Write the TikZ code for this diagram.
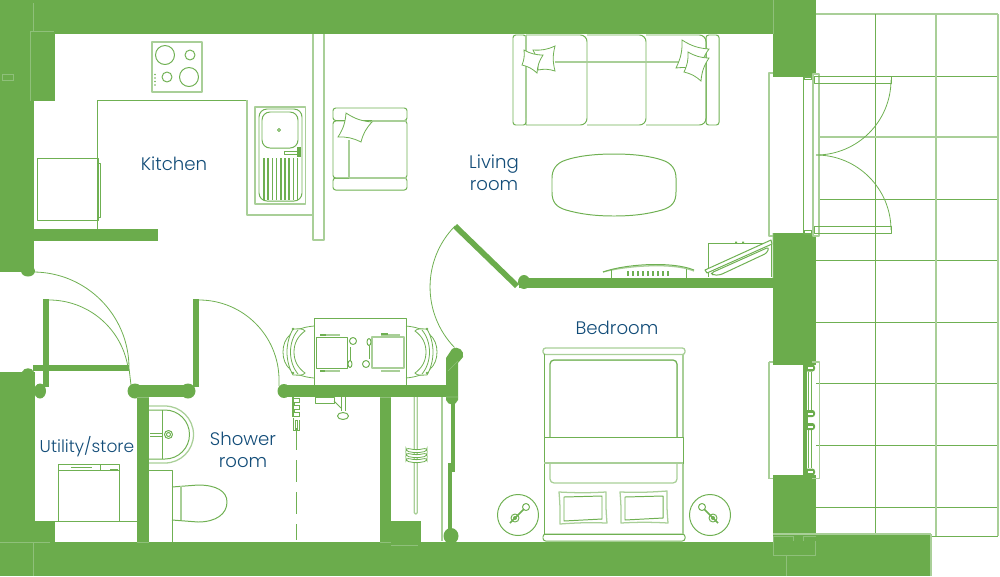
\documentclass[tikz,border=0pt]{standalone}
\usepackage{fontspec}
\setmainfont{Poppins Light}
\definecolor{wall}{HTML}{6BAC4C}
\definecolor{ink}{HTML}{124C78}
\definecolor{lineg}{HTML}{6FB052}
\definecolor{lightg}{HTML}{A9CF98}
\definecolor{seam}{HTML}{8FC07A}
\tikzset{
  wallfill/.style={fill=wall,draw=none},
  ln/.style={draw=lineg,line width=0.74pt,line join=round},
  ltl/.style={draw=lightg,line width=0.95pt,line join=round},
  thinl/.style={draw=lineg,line width=0.6pt},
  seaml/.style={draw=seam,line width=0.5pt},
  lab/.style={text=ink,font=\fontsize{13.6}{16.5}\selectfont,align=center,inner sep=0pt}
}
\newcommand{\cush}[4]{\draw[thinl,fill=white] #1 to[bend right=14] #2 to[bend right=14] #3 to[bend right=14] #4 to[bend right=14] cycle;}
\begin{document}
\begin{tikzpicture}[x=0.75pt,y=-0.75pt]
\useasboundingbox (0,0) rectangle (1000,576);
% terrace grid
\foreach \yy in {76,137,199,260,322,383,445,507}{\draw[ln] (816,\yy) -- (998,\yy);}
\draw[ltl] (816,14) -- (998,14);
\draw[ln] (875,14) -- (875,534);
\draw[ltl] (936,14) -- (936,536);
\draw[ltl] (998,14) -- (998,536);
\draw[ln] (931,536) -- (998,536);
\draw[ltl] (813,137) -- (998,137);
\draw[ln] (813,199) -- (816,199);
% walls
\fill[wallfill] (0,0) rectangle (816,34);
\fill[wallfill] (0,0) rectangle (34,272);
\fill[wallfill] (30,31) rectangle (55,101);
\fill[wallfill] (773,0) rectangle (816,77);
\fill[wallfill] (773,233) rectangle (816,365);
\fill[wallfill] (773,475) rectangle (816,576);
\fill[wallfill] (34,229) rectangle (158,241);
\fill[wallfill] (28,271) ellipse (7 and 5.5);
\fill[wallfill] (0,372) rectangle (35,576);
\fill[wallfill] (0,542) rectangle (816,576);
\fill[wallfill] (773,534) rectangle (931,576);
\fill[wallfill] (35,521) rectangle (55,542);
\fill[wallfill] (0,372) -- (22,372) .. controls (24,367) and (32,367) .. (34,372) -- (35,380) -- (0,380) -- cycle;
\fill[wallfill] (40,391) ellipse (6 and 7.5);
\fill[wallfill] (519,278) rectangle (773,288);
\fill[wallfill] (524,282) ellipse (6 and 7);
% inner walls
\fill[wallfill] (137,385) rectangle (190,397);
\fill[wallfill] (135,391) ellipse (7.5 and 7.5);
\fill[wallfill] (188,391) ellipse (7.5 and 7.5);
\fill[wallfill] (137,397) rectangle (149,542);
\fill[wallfill] (284,385) rectangle (458,397);
\fill[wallfill] (284,391) ellipse (6.5 and 7);
\fill[wallfill] (380,397) rectangle (391,542);
\fill[wallfill] (391,521) rectangle (421,542);
\fill[wallfill] (446,358) -- (452,349) .. controls (458,345) and (465,351) .. (463,357) -- (458,363) -- (458,400) .. controls (456,406) and (448,406) .. (446,400) -- cycle;
\fill[wallfill] (451,400) rectangle (455,472);
\fill[wallfill] (448,463) rectangle (452,535);
\fill[wallfill] (451,536) ellipse (7.5 and 8);
% door leaves
\fill[wallfill] (43,299) rectangle (49,387);
\fill[wallfill] (33,365) rectangle (129,371);
\fill[wallfill] (193,299) rectangle (199,387);
\fill[wallfill] (453,228) -- (457,224) -- (519,284) -- (515,288) -- cycle;
% seams
\draw[seaml] (33,3) -- (33,31) (30,101) -- (30,31) -- (54,31);
\draw[seaml] (773,0) -- (773,34) (2,74) rectangle (13,80);
\draw[seaml] (0,542) -- (50,542) (33,542) -- (33,576);
\draw[seaml] (137,397) -- (149,397) (137,542) -- (149,542);
\draw[seaml] (380,397) -- (391,397) (380,542) -- (391,542) (391,545) -- (418,545);
\draw[seaml] (773,541) -- (773,536) -- (793,536) -- (793,541) (803,541) -- (803,536) -- (816,536) (773,541) -- (773,555) -- (815,555) -- (815,541) (786,555) -- (786,576);
\draw[ltl] (773,534) -- (931,534) (931,534) -- (931,576);
\draw[seaml] (773,233) -- (773,278) (446,397) -- (458,397) (448,371) -- (458,361);
% door arcs
\draw[thinl] (33,272) arc (270:360:96) -- (131,385);
\draw[thinl] (49,300) arc (270:350:80);
\draw[thinl] (199,300) arc (270:360:80) -- (279,386);
\draw[thinl] (455,226) arc (224.5:136:87);
% kitchen
\draw[ln] (97,229) -- (97,100) -- (247,100);
\draw[ltl] (247,100) -- (247,215) -- (313,215);
\draw[ltl] (152,42) rectangle (202,92);
\draw[ln] (165,55) circle (9.5) (190,55) circle (5) (167,77) circle (5) (189,77) circle (9.5);
\foreach \yy in {74.5,78,81.5,85}{\fill[lineg] (155,\yy) circle (0.9);}
\draw[ln] (37,158) rectangle (98,220);
\draw[ln] (98,163) -- (100,163) -- (100,217) -- (98,217);
% sink
\draw[ltl] (255,107) rectangle (305.5,204);
\draw[ln,rounded corners=6] (259,109) rectangle (302,201);
\draw[ln,rounded corners=6] (262,112) rectangle (298,148);
\draw[ln] (279,130) circle (1.5);
\foreach \xx in {264,268.2,272.4,276.6,280.8,285,289.2,293.4,297.6}{\draw[lineg,line width=1.2pt] (\xx,158) -- (\xx,200);}
\draw[ln,fill=white] (284,151) rectangle (298,154);
\fill[wall] (297,147) rectangle (301,157);
% partition
\draw[ltl,fill=white] (313,34) -- (313,240) -- (324,240) -- (324,34);
% armchair
\draw[ln,rounded corners=2] (333,108) rectangle (407,120.5);
\draw[ln,rounded corners=2] (333,178) rectangle (407,190);
\draw[ln,rounded corners=2] (333,121) rectangle (407,178);
\draw[ltl] (349,140) -- (349,178) (349,178) -- (407,178) (372,121) -- (407,121);
\cush{(346,113)}{(372,122)}{(361,142)}{(338,137)}
% sofa
\draw[ln,rounded corners=2] (513,35) rectangle (526,125);
\draw[ln,rounded corners=2] (706,35) rectangle (719,125);
\draw[ln,rounded corners=5] (526,125) -- (526,116) (526,35) -- (587,35) -- (587,125) -- (526,125);
\draw[ln,rounded corners=5] (587,35) -- (646,35) -- (646,125) -- (587,125);
\draw[ln,rounded corners=5] (646,35) -- (706,35) -- (706,125) -- (646,125);
\draw[ltl] (526,35) -- (526,118);
\draw[ltl] (646,62) -- (706,62) (555,62) -- (587,62) (587,62) -- (646,62);
\cush{(533,50)}{(555,46)}{(555,71)}{(538,70)}
\cush{(524,50)}{(543,55)}{(537,73)}{(522,65)}
\cush{(682,40)}{(709,49)}{(700,71)}{(676,68)}
\cush{(688,52)}{(709,58)}{(701,81)}{(684,72)}
% coffee table
\draw[ln] (614,154) .. controls (590,154) and (575,157) .. (566,160) .. controls (556,163) and (552,170) .. (552,178) -- (552,192) .. controls (552,202) and (556,207) .. (566,210) .. controls (580,214) and (595,216) .. (614,216) .. controls (633,216) and (648,214) .. (662,210) .. controls (672,207) and (676,202) .. (676,192) -- (676,178) .. controls (676,170) and (672,163) .. (662,160) .. controls (653,157) and (638,154) .. (614,154) -- cycle;
% heater
\draw[ltl] (603,272) .. controls (625,266) and (672,262) .. (694,271);
\draw[ln] (603,272) .. controls (625,264) and (672,261) .. (694,270);
\draw[thinl] (611,270) -- (611,278) (686,269) -- (686,278);
\foreach \xx in {628,633,638,643,648,653,658,663,668}{\draw[lineg,line width=1pt] (\xx,271) -- (\xx,276);}
% TV
\draw[ln] (708,277) -- (708,243) -- (771,243) -- (771,277);
\fill[lineg] (735,241.5) rectangle (737,243) (742,241.5) rectangle (744,243);
\draw[ln,fill=white] (705,270) -- (771,240) -- (772,244) -- (707,273) -- cycle;
\draw[ln,fill=white,rounded corners=2] (711,273) -- (769,247) -- (767,253) -- (720,275) -- (713,275) -- cycle;
% balcony door
\draw[ltl] (773,73) -- (769,73) -- (769,236) -- (773,236);
\draw[ln] (803,77) rectangle (813,233);
\draw[ltl,fill=white] (813,74) rectangle (819,236);
\draw[ln] (814,76) rectangle (891,83);
\draw[ln] (814,226) rectangle (891,233);
\draw[thinl] (804,76) rectangle (811,79) (804,230) rectangle (811,234);
\draw[thinl] (891,80) arc (0:90:75);
\draw[thinl] (891,230) arc (0:-90:75);
% bedroom window
\fill[white] (773,365) rectangle (816,475);
\draw[ltl] (769,362) -- (773,362) (769,478.5) -- (773,478.5) (769,362) -- (769,478.5) (812,362) -- (819.5,362) -- (819.5,478.5) -- (812,478.5);
\fill[wall] (803,365) rectangle (807,475);
\draw[ln] (808.5,372) -- (808.5,410) (811,372) -- (811,410) (808.5,430) -- (808.5,468) (811,430) -- (811,468);
\foreach \yy in {368,413.5,426.5,472}{\fill[wall,rounded corners=2] (805,\yy-3.5) rectangle (815,\yy+3.5);\fill[white] (808,\yy-1) rectangle (813,\yy+1);}
\fill[wall] (805,417) rectangle (808,423);
% dining
\draw[ln] (314,385) -- (314,318) -- (406.5,318) -- (406.5,385);
\draw[ln] (316,337) rectangle (347,368);
\draw[ltl] (372,337) rectangle (404,368);
\draw[ltl] (320,335) -- (340,335) (320,371) -- (340,371);
\draw[ln] (353,341) circle (3.5) (366,364) circle (3.5);
\draw[thinl] (350,347) -- (350,361) (369,346) -- (369,359);
\draw[ln] (350,364) circle (2 and 3.5) (369,342) circle (2 and 3.5);
\draw[ltl] (381,335) -- (400,335) (381,371) -- (400,371);
\draw[lineg,line width=1pt] (381,334) -- (388,334) (320,335) -- (326,335) (320,371) -- (325,371);
\foreach \sc/\sh in {1/0,-1/720}{
\begin{scope}[shift={(\sh,0)},xscale=\sc]
\draw[thinl] (314,326) .. controls (292,328) and (283,338) .. (283,352) .. controls (283,366) and (292,376) .. (314,378);
\draw[thinl,fill=white] (293,329) .. controls (298,329) and (303,328) .. (305,331) .. controls (298,336) and (294,343) .. (294,352) .. controls (294,361) and (298,368) .. (305,373) .. controls (303,376) and (298,375) .. (293,375) .. controls (289,368) and (287,360) .. (287,352) .. controls (287,344) and (289,336) .. (293,329) -- cycle;
\draw[thinl] (298,330) .. controls (293,336) and (290.5,344) .. (290.5,352) .. controls (290.5,360) and (293,368) .. (298,374);
\fill[lineg] (293,329) circle (1.3) (293,373) circle (1.3);
\end{scope}}
% shower / tap
\draw[ln] (315,397) rectangle (334,403);
\draw[ln] (334,401) -- (341,408);
\draw[ln] (341,397) -- (341,411) (345,397) -- (345,411);
\draw[ln,fill=white] (343,416) ellipse (5.5 and 3.5);
\fill[lineg] (291.5,397) rectangle (293.5,417);
\draw[thinl] (294,398) -- (299,398) -- (299,402) -- (294,402) -- (294,405) -- (299,405) -- (299,409) -- (294,409) -- (294,412) -- (299,412) -- (299,416) -- (294,416);
\draw[thinl] (293,418) -- (293,430) -- (295,430) -- (295,420) -- (297,420) -- (297,430) -- (299,430) -- (299,420);
\draw[thinl,dash pattern=on 16.5pt off 7.5pt] (296,428) -- (296,540);
% wardrobe
\draw[ltl,rounded corners=1] (414.3,397) -- (414.3,514) -- (417.3,514) -- (417.3,397);
\foreach \yy in {450,455,460}{\draw[thinl,fill=white,rounded corners=2] (406,\yy-2) .. controls (415,\yy) and (418,\yy) .. (427,\yy-2) -- (427,\yy+1) .. controls (418,\yy+3) and (415,\yy+3) .. (406,\yy+1) -- cycle;}
\draw[ltl] (442,397) -- (442,541);
% basin
\draw[ltl] (149,406) -- (165,406) arc (-90:90:28.5 and 28.5) -- (149,463);
\draw[ln] (149,410) -- (165,410) arc (-90:90:24.5) -- (149,459);
\draw[ln] (162,410) -- (162,459);
\draw[ln] (150,433) -- (163,433) (150,436) -- (163,436);
\draw[ln,fill=white] (168.5,434.5) circle (4) (168.5,434.5) circle (2);
% toilet
\draw[ln] (149,470) -- (172,470) -- (172,542);
\draw[ln] (172,487) -- (198,485) .. controls (216,485) and (227,491) .. (227,502) .. controls (227,514) and (216,522) .. (198,522) -- (172,520);
\draw[ltl] (181,486) -- (181,520);
% utility
\draw[ln] (58,521) -- (58,464) -- (119,464) -- (119,521);
\draw[ln] (58,470) -- (119,470);
\draw[thinl] (100,464) -- (100,470) (71,467) -- (92,467) (110,469) -- (118,469);
\draw[ln] (55,521) -- (137,521);
% bed
\draw[ltl,rounded corners=2] (543,348) rectangle (685,354.5);
\draw[ln,rounded corners=2] (543,534) rectangle (685,541);
\draw[ln] (544,354) -- (544,534);
\draw[ltl] (683,354) -- (683,534);
\draw[ln] (544,534) -- (683,534);
\draw[ltl,rounded corners=3] (550,483) rectangle (677,360);
\draw[ln,rounded corners=3] (550,437) -- (550,360) -- (677,360) -- (677,437);
\draw[ln,fill=white] (544,437) rectangle (683,463);
\draw[ltl] (544,463) -- (683,463);
\draw[ltl] (559,492) to[bend right=3] (606,492) to[bend right=3] (607,523) to[bend right=3] (560,524) to[bend right=3] cycle;
\draw[ln] (564,497) -- (602,496) -- (602,519) -- (564,521) -- cycle;
\draw[ltl] (620,492) to[bend right=3] (667,491) to[bend right=3] (668,523) to[bend right=3] (621,523) to[bend right=3] cycle;
\draw[ln] (625,497) -- (663,496) -- (663,518) -- (625,520) -- cycle;
\draw[ln] (518,515) circle (20.5) (710,515) circle (20.5);
\draw[ln] (526,507) circle (3.5) (702,507) circle (3.5);
\draw[ln] (515,518) circle (4) (713,518) circle (4);
\fill[lineg] (515,518) circle (2) (713,518) circle (2);
\draw[lineg,line width=1.1pt] (510,523) -- (524,509) (718,523) -- (704,509);
% labels
\node[lab] (kitchen) at (174,163.5) {Kitchen};
\node[lab] (living) at (494,173) {Living\\room};
\node[lab] (bedroom) at (617,328) {Bedroom};
\node[lab] (shower) at (243,450) {Shower\\room};
\node[lab,font=\fontsize{12.8}{15}\selectfont] (utility) at (87,447) {Utility/store};
\end{tikzpicture}
\end{document}
